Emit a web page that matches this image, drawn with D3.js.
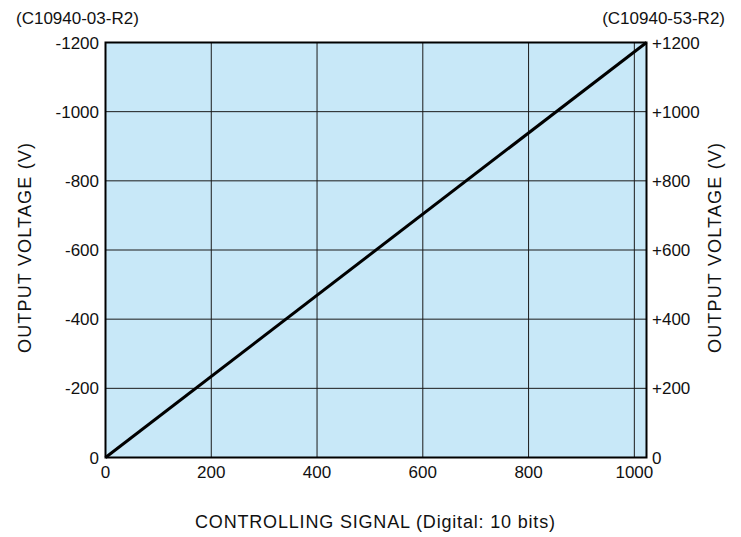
<!DOCTYPE html>
<html><head><meta charset="utf-8">
<script src="https://cdn.jsdelivr.net/npm/d3@7"></script>
<style>body{margin:0;background:#fff;} svg{display:block;font-family:"Liberation Sans",Arial,sans-serif;}</style>
</head><body>
<svg id="c" width="741" height="537"></svg>
<script>
const controlSignal = [0, 1023];
const outputVoltage = [0, 1200];
const xTicks = [0, 200, 400, 600, 800, 1000];
const yTicks = [0, 200, 400, 600, 800, 1000, 1200];
const leftTickLabels = ["0", "-200", "-400", "-600", "-800", "-1000", "-1200"];
const rightTickLabels = ["0", "+200", "+400", "+600", "+800", "+1000", "+1200"];
const leftModel = "(C10940-03-R2)";
const rightModel = "(C10940-53-R2)";
const xTitle = "CONTROLLING SIGNAL (Digital: 10 bits)";
const yTitle = "OUTPUT VOLTAGE (V)";

const svg = d3.select("#c");
const L = 105.5, R = 646.5, T = 42.5, B = 457.5;
const x = d3.scaleLinear().domain([0, 1023]).range([L, R]);
const y = d3.scaleLinear().domain([0, 1200]).range([B, T]);
const fs = 17;

svg.append("rect").attr("x", L).attr("y", T).attr("width", R - L).attr("height", B - T).attr("fill", "#c8e8f8");

// grid
svg.append("g").selectAll("line").data(xTicks.filter(d => d > 0)).join("line")
  .attr("x1", d => x(d)).attr("x2", d => x(d)).attr("y1", T).attr("y2", B)
  .attr("stroke", "#1a1a1a").attr("stroke-width", 1);
svg.append("g").selectAll("line").data(yTicks.filter(d => d > 0 && d < 1200)).join("line")
  .attr("y1", d => y(d)).attr("y2", d => y(d)).attr("x1", L).attr("x2", R)
  .attr("stroke", "#1a1a1a").attr("stroke-width", 1);

// frame
svg.append("rect").attr("x", L).attr("y", T).attr("width", R - L).attr("height", B - T)
  .attr("fill", "none").attr("stroke", "#000").attr("stroke-width", 2);

// line
const pts = controlSignal.map((d, i) => [d, outputVoltage[i]]);
svg.append("path").datum(pts)
  .attr("d", d3.line().x(d => x(d[0])).y(d => y(d[1])))
  .attr("fill", "none").attr("stroke", "#000").attr("stroke-width", 3);

// x tick labels
svg.append("g").selectAll("text").data(xTicks).join("text")
  .attr("x", d => x(d)).attr("y", 478).attr("text-anchor", "middle")
  .attr("font-size", fs).attr("fill", "#111").text(d => d);

// left y labels
svg.append("g").selectAll("text").data(yTicks).join("text")
  .attr("x", 99).attr("y", d => y(d) + 6).attr("text-anchor", "end")
  .attr("font-size", fs).attr("fill", "#111").text((d, i) => leftTickLabels[i]);

// right y labels
svg.append("g").selectAll("text").data(yTicks).join("text")
  .attr("x", 652).attr("y", d => y(d) + 6).attr("text-anchor", "start")
  .attr("font-size", fs).attr("fill", "#111").text((d, i) => rightTickLabels[i]);

// model labels
svg.append("text").attr("x", 16).attr("y", 24).attr("font-size", fs).attr("fill", "#111").text(leftModel);
svg.append("text").attr("x", 725).attr("y", 24).attr("text-anchor", "end").attr("font-size", fs).attr("fill", "#111").text(rightModel);

// axis titles
svg.append("text").attr("x", 375).attr("y", 528).attr("text-anchor", "middle")
  .attr("font-size", 18).attr("fill", "#111")
  .attr("textLength", 360).attr("lengthAdjust", "spacing").text(xTitle);
svg.append("text").attr("transform", `translate(31,248) rotate(-90)`).attr("text-anchor", "middle")
  .attr("font-size", 18).attr("fill", "#111")
  .attr("textLength", 210).attr("lengthAdjust", "spacing").text(yTitle);
svg.append("text").attr("transform", `translate(721,248) rotate(-90)`).attr("text-anchor", "middle")
  .attr("font-size", 18).attr("fill", "#111")
  .attr("textLength", 210).attr("lengthAdjust", "spacing").text(yTitle);
</script>
</body></html>
